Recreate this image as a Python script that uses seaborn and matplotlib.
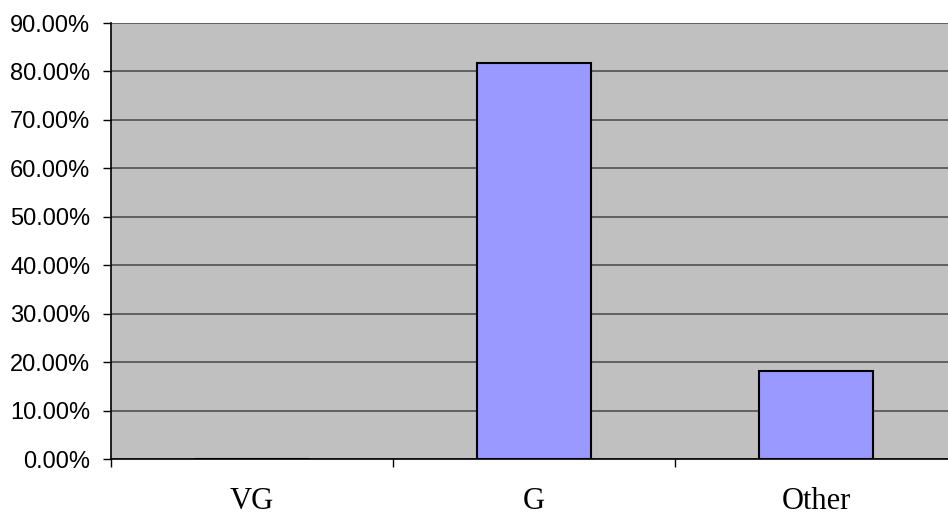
import matplotlib
matplotlib.use("Agg")
import matplotlib.pyplot as plt
import seaborn as sns
import pandas as pd
from matplotlib.ticker import FuncFormatter, MultipleLocator, FixedLocator

categories = ["VG", "G", "Other"]
shares = [0.0, 81.82, 18.18]

df = pd.DataFrame({"category": categories, "share": shares})

sns.set_theme(style="white")
plt.rcParams["font.family"] = ["Liberation Sans", "DejaVu Sans"]

fig = plt.figure(figsize=(9.48, 5.14), dpi=100)
ax = fig.add_axes([111 / 948, 55 / 514, 846 / 948, 436 / 514])
ax.set_facecolor("#C0C0C0")

sns.barplot(data=df, x="category", y="share", order=categories,
            color="#9999FF", width=0.404, edgecolor="black", linewidth=1.5,
            saturation=1, ax=ax, zorder=3)

ax.set_xlim(-0.5, 2.5)
ax.set_ylim(0, 90)
ax.yaxis.set_major_locator(MultipleLocator(10))
ax.yaxis.set_major_formatter(FuncFormatter(lambda v, p: f"{v:.2f}%"))
ax.grid(axis="y", color="#505050", linewidth=1.2, zorder=1)
ax.set_axisbelow(True)

# category labels sit between boundary ticks
ax.xaxis.set_major_locator(FixedLocator([-0.5, 0.5, 1.5, 2.5]))
ax.xaxis.set_major_formatter(FuncFormatter(lambda v, p: ""))
ax.xaxis.set_minor_locator(FixedLocator([0, 1, 2]))
ax.set_xticklabels(categories, minor=True)
ax.tick_params(axis="x", which="major", length=6, width=1, color="black",
               direction="out", bottom=True)
ax.tick_params(axis="x", which="minor", length=0, pad=20, labelsize=22,
               bottom=True)
for lbl in ax.get_xticklabels(minor=True):
    lbl.set_fontfamily(["Liberation Serif", "DejaVu Serif"])
    lbl.set_color("black")
ax.tick_params(axis="y", length=6, width=1, color="black", direction="out",
               left=True, pad=9, labelsize=17, labelcolor="black")

ax.set_xlabel("")
ax.set_ylabel("")
for side in ["top", "right"]:
    ax.spines[side].set_visible(False)
for side in ["left", "bottom"]:
    ax.spines[side].set_color("black")
    ax.spines[side].set_linewidth(1.2)
    ax.spines[side].set_zorder(4)

fig.savefig("out.png", dpi=100)
